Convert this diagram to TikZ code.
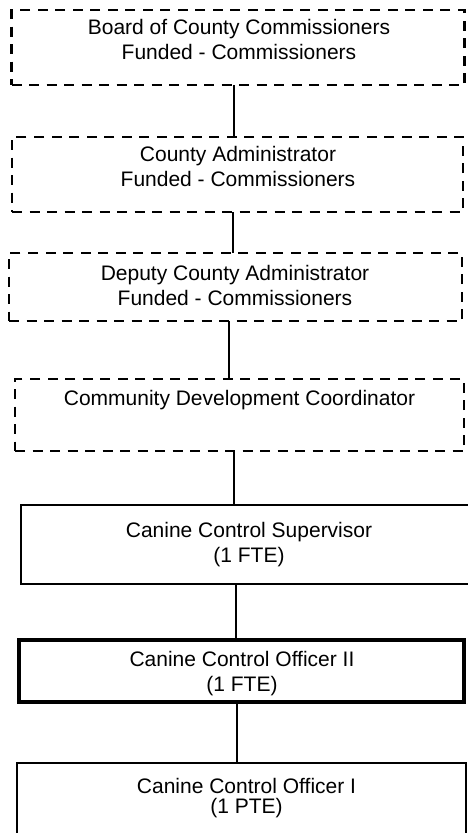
\documentclass[tikz,border=0pt]{standalone}
\usepackage{fontspec}
\setmainfont{Liberation Sans}
\begin{document}
\begin{tikzpicture}[x=1pt,y=-1pt,
  box/.style={draw=black, rectangle, inner sep=0pt, outer sep=0pt},
  dbox/.style={box, line width=2.4pt, dash pattern=on 10pt off 7.5pt},
  sbox/.style={box, line width=2pt},
  tbox/.style={box, line width=3.2pt},
  txt/.style={align=center, inner sep=0pt, anchor=base,
    font=\fontsize{21}{25}\selectfont},
  link/.style={draw=black, line width=2pt}]
  \fill[white] (0,0) rectangle (468,833);
  \useasboundingbox (0,0) rectangle (468,833);
  \clip (0,0) rectangle (468,833);

  % boxes
  \node[dbox, minimum width=453pt, minimum height=75pt] (b1) at (238,47.5) {};
  \node[dbox, minimum width=451pt, minimum height=75pt] (b2) at (237.5,174.5) {};
  \node[dbox, minimum width=453pt, minimum height=68pt] (b3) at (235.5,287) {};
  \node[dbox, minimum width=449pt, minimum height=72pt] (b4) at (239.5,415) {};
  \node[sbox, minimum width=470pt, minimum height=79pt] (b5) at (256,544.5) {};
  \node[tbox, minimum width=445pt, minimum height=62pt] (b6) at (241.5,671) {};
  \node[sbox, minimum width=449pt, minimum height=100pt] (b7) at (241.5,813) {};

  % labels (anchored at the baseline of their last line)
  \node[txt] (t1) at (239,59) {Board of County Commissioners\\Funded - Commissioners};
  \node[txt] (t2) at (238,186) {County Administrator\\Funded - Commissioners};
  \node[txt] (t3) at (235,305) {Deputy County Administrator\\Funded - Commissioners};
  \node[txt] (t4) at (239.5,405) {Community Development Coordinator};
  \node[txt] (t5) at (249,562) {Canine Control Supervisor\\(1 FTE)};
  \node[txt] (t6) at (242,691) {Canine Control Officer II\\(1 FTE)};
  \node[txt, font=\fontsize{21}{20}\selectfont] (t7) at (246.5,813) {Canine Control Officer I\\(1 PTE)};

  % reporting lines
  \draw[link] (b1.south -| 234,0) -- (b2.north -| 234,0);
  \draw[link] (b2.south -| 233,0) -- (b3.north -| 233,0);
  \draw[link] (b3.south -| 229,0) -- (b4.north -| 229,0);
  \draw[link] (b4.south -| 234,0) -- (b5.north -| 234,0);
  \draw[link] (b5.south -| 236,0) -- (b6.north -| 236,0);
  \draw[link] (b6.south -| 237,0) -- (b7.north -| 237,0);
\end{tikzpicture}
\end{document}
